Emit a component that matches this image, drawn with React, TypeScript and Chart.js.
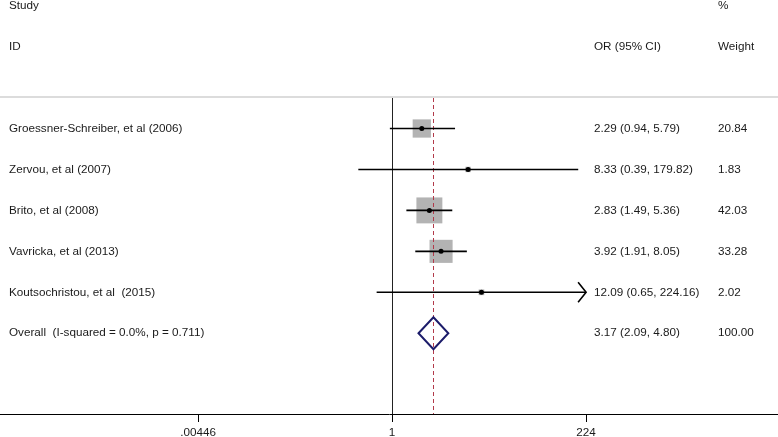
import { useEffect, useRef } from "react";
import { Chart, registerables } from "chart.js";

Chart.register(...registerables);

const studies = [
  "Groessner-Schreiber, et al (2006)",
  "Zervou, et al (2007)",
  "Brito, et al (2008)",
  "Vavricka, et al (2013)",
  "Koutsochristou, et al  (2015)",
];
const orValues = [2.29, 8.33, 2.83, 3.92, 12.09];
const ciLower = [0.94, 0.39, 1.49, 1.91, 0.65];
const ciUpper = [5.79, 179.82, 5.36, 8.05, 224.16];
const weights = [20.84, 1.83, 42.03, 33.28, 2.02];
const overallLabel = "Overall  (I-squared = 0.0%, p = 0.711)";
const overallOR = 3.17;
const overallLower = 2.09;
const overallUpper = 4.8;
const overallWeight = 100.0;
const xTicks = [0.00446, 1, 224];
const xTickLabels = [".00446", "1", "224"];
const headerLeft = ["Study", "ID"];
const headerOR = "OR (95% CI)";
const headerWeight = ["%", "Weight"];

const FONT = "11.7px 'Liberation Sans', Arial, sans-serif";
const fmt2 = (v: number) => v.toFixed(2);

const forestPlugin = {
  id: "forest",
  beforeDatasetsDraw(chart: any) {
    const { ctx, chartArea } = chart;
    const xs = chart.scales.x;
    const ys = chart.scales.y;
    const clipMin = xTicks[0];
    const clipMax = xTicks[xTicks.length - 1];
    const yHeaderLine = Math.round(ys.getPixelForValue(0.22));
    ctx.save();
    // header separator
    ctx.strokeStyle = "#dcdcdc";
    ctx.lineWidth = 2;
    ctx.beginPath();
    ctx.moveTo(chartArea.left, yHeaderLine);
    ctx.lineTo(chartArea.right, yHeaderLine);
    ctx.stroke();
    // null line
    const x1 = Math.round(xs.getPixelForValue(1)) + 0.5;
    ctx.strokeStyle = "#222";
    ctx.lineWidth = 1;
    ctx.beginPath();
    ctx.moveTo(x1, yHeaderLine + 1);
    ctx.lineTo(x1, chartArea.bottom);
    ctx.stroke();
    // boxes
    ctx.fillStyle = "#b3b3b3";
    studies.forEach((_, i) => {
      const cx = xs.getPixelForValue(orValues[i]);
      const cy = ys.getPixelForValue(i + 1);
      const s = 4 * Math.sqrt(weights[i]);
      ctx.fillRect(cx - s / 2, cy - s / 2, s, s);
    });
    // overall dashed line
    const xo = xs.getPixelForValue(overallOR);
    const xoLine = Math.round(xo) + 0.5;
    ctx.strokeStyle = "#b23a4a";
    ctx.lineWidth = 1;
    ctx.setLineDash([4, 3]);
    ctx.beginPath();
    ctx.moveTo(xoLine, yHeaderLine + 1);
    ctx.lineTo(xoLine, chartArea.bottom);
    ctx.stroke();
    ctx.setLineDash([]);
    // CI lines
    ctx.strokeStyle = "#000";
    ctx.lineWidth = 1.6;
    studies.forEach((_, i) => {
      const cy = ys.getPixelForValue(i + 1);
      const lo = Math.max(ciLower[i], clipMin);
      const hi = Math.min(ciUpper[i], clipMax);
      const xl = xs.getPixelForValue(lo);
      const xh = xs.getPixelForValue(hi);
      ctx.beginPath();
      ctx.moveTo(xl, cy);
      ctx.lineTo(xh, cy);
      ctx.stroke();
      if (ciUpper[i] > clipMax) {
        ctx.beginPath();
        ctx.moveTo(xh - 8, cy - 10);
        ctx.lineTo(xh, cy);
        ctx.lineTo(xh - 8, cy + 10);
        ctx.stroke();
      }
      if (ciLower[i] < clipMin) {
        ctx.beginPath();
        ctx.moveTo(xl + 8, cy - 10);
        ctx.lineTo(xl, cy);
        ctx.lineTo(xl + 8, cy + 10);
        ctx.stroke();
      }
    });
    // overall diamond
    const cyO = ys.getPixelForValue(studies.length + 1);
    const xl = xs.getPixelForValue(overallLower);
    const xh = xs.getPixelForValue(overallUpper);
    ctx.strokeStyle = "#1c1c6a";
    ctx.lineWidth = 2;
    ctx.beginPath();
    ctx.moveTo(xl, cyO);
    ctx.lineTo(xo, cyO - 16);
    ctx.lineTo(xh, cyO);
    ctx.lineTo(xo, cyO + 16);
    ctx.closePath();
    ctx.stroke();

    // texts
    ctx.fillStyle = "#1a1a1a";
    ctx.font = FONT;
    ctx.textBaseline = "middle";
    ctx.textAlign = "left";
    const colStudy = chartArea.left + 9;
    const colOR = chartArea.left + 594;
    const colW = chartArea.left + 718;
    ctx.fillText(headerLeft[0], colStudy, ys.getPixelForValue(-2));
    ctx.fillText(headerLeft[1], colStudy, ys.getPixelForValue(-1));
    ctx.fillText(headerOR, colOR, ys.getPixelForValue(-1));
    ctx.fillText(headerWeight[0], colW, ys.getPixelForValue(-2));
    ctx.fillText(headerWeight[1], colW, ys.getPixelForValue(-1));
    studies.forEach((name, i) => {
      const cy = ys.getPixelForValue(i + 1);
      ctx.fillText(name, colStudy, cy);
      ctx.fillText(`${fmt2(orValues[i])} (${fmt2(ciLower[i])}, ${fmt2(ciUpper[i])})`, colOR, cy);
      ctx.fillText(fmt2(weights[i]), colW, cy);
    });
    ctx.fillText(overallLabel, colStudy, cyO);
    ctx.fillText(`${fmt2(overallOR)} (${fmt2(overallLower)}, ${fmt2(overallUpper)})`, colOR, cyO);
    ctx.fillText(fmt2(overallWeight), colW, cyO);
    ctx.restore();
  },
};

export default function App() {
  const ref = useRef<HTMLCanvasElement | null>(null);
  useEffect(() => {
    document.body.style.margin = "0";
    if (!ref.current) return;
    const chart = new Chart(ref.current, {
      type: "scatter",
      data: {
        datasets: [
          {
            data: orValues.map((v, i) => ({ x: v, y: i + 1 })),
            pointStyle: "circle",
            pointRadius: 2.5,
            pointHoverRadius: 2.5,
            pointBackgroundColor: "#000",
            pointBorderColor: "#000",
            pointBorderWidth: 0,
            clip: false,
          },
        ],
      },
      options: {
        animation: false,
        responsive: false,
        layout: { padding: 0, autoPadding: false },
        plugins: { legend: { display: false }, tooltip: { enabled: false } },
        scales: {
          x: {
            type: "logarithmic",
            min: 1.78e-5,
            max: 4.73e4,
            position: "bottom",
            afterBuildTicks: (s: any) => {
              s.ticks = xTicks.map((v) => ({ value: v }));
            },
            afterFit: (s: any) => {
              s.height = 23;
              s.paddingLeft = 0;
              s.paddingRight = 0;
            },
            grid: { drawOnChartArea: false, drawTicks: true, tickLength: 8, color: "#000", lineWidth: 1 },
            border: { display: true, color: "#000", width: 1 },
            ticks: {
              callback: (_v: any, i: number) => xTickLabels[i],
              font: { family: "'Liberation Sans', Arial, sans-serif", size: 11.7 },
              color: "#1a1a1a",
              padding: 4,
              maxRotation: 0,
              autoSkip: false,
            },
          },
          y: {
            type: "linear",
            display: false,
            reverse: true,
            min: -2.138,
            max: 7.972,
          },
        },
      },
      plugins: [forestPlugin],
    } as any);
    return () => chart.destroy();
  }, []);
  return (
    <div style={{ width: 778, height: 437, position: "relative" }}>
      <canvas ref={ref} width={778} height={437} style={{ width: 778, height: 437, display: "block" }} />
    </div>
  );
}
